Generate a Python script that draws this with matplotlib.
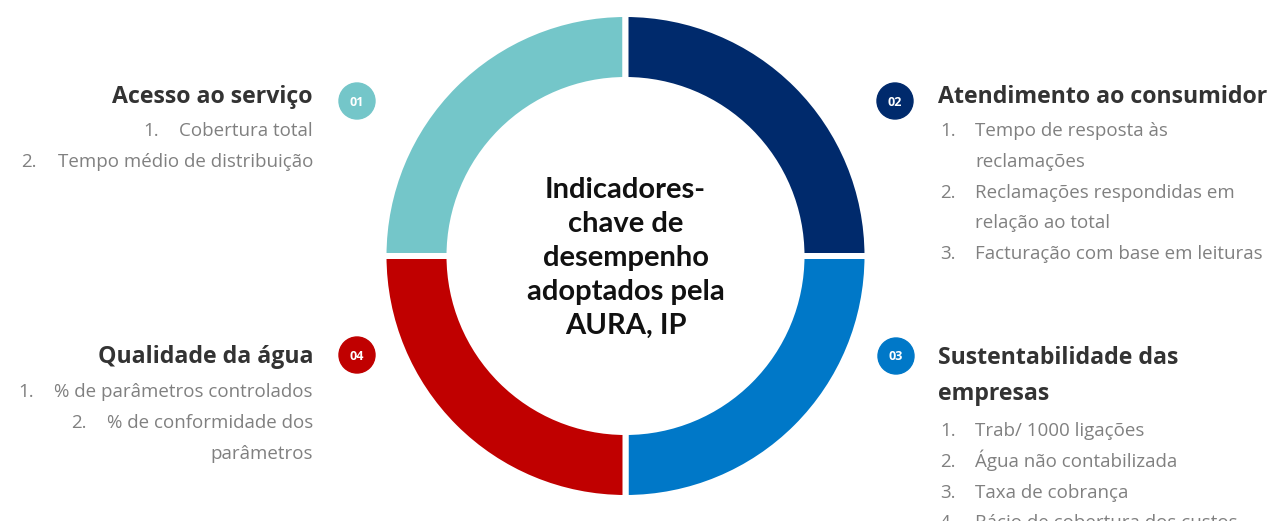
import matplotlib
matplotlib.use("Agg")
import matplotlib.pyplot as plt
from matplotlib.patches import Circle

# ---- data ----
numbers = ["01", "02", "03", "04"]
categories = ["Acesso ao serviço", "Atendimento ao consumidor",
              "Sustentabilidade das\nempresas", "Qualidade da água"]
shares = [1, 1, 1, 1]
colors = ["#74C6C9", "#002A6C", "#0078C8", "#C00000"]
items_01 = [["Cobertura total"], ["Tempo médio de distribuição"]]
items_02 = [["Tempo de resposta às", "reclamações"],
            ["Reclamações respondidas em", "relação ao total"],
            ["Facturação com base em leituras"]]
items_03 = [["Trab/ 1000 ligações"], ["Água não contabilizada"],
            ["Taxa de cobrança"], ["Rácio de cobertura dos custos"]]
items_04 = [["% de parâmetros controlados"],
            ["% de conformidade dos", "parâmetros"]]
center_text = "Indicadores-\nchave de\ndesempenho\nadoptados pela\nAURA, IP"

W, H = 1270, 521
fig = plt.figure(figsize=(W / 100, H / 100), dpi=100)
ax = fig.add_axes([0, 0, 1, 1])


def Y(y):
    return H - y


# ---- donut ----
cx, cy = 625.5, Y(256)
gap_px = 6
ax.pie(shares, colors=colors, startangle=180, counterclock=False,
       center=(cx, cy), radius=239 + gap_px / 2, frame=True,
       wedgeprops=dict(width=60 + gap_px, edgecolor="white",
                       linewidth=gap_px * 72 / 100))
ax.set_xlim(0, W)
ax.set_ylim(0, H)
ax.set_aspect("equal")
ax.axis("off")

ax.text(cx, Y(258), center_text, ha="center", va="center",
        fontsize=21, fontweight="bold", family="Lato", color="#111111",
        linespacing=1.38)

# ---- badges ----
badge_pos = [(357, 101), (895, 101), (896, 356), (357, 355)]
for num, (bx, by), col in zip(numbers, badge_pos, colors):
    ax.add_patch(Circle((bx, Y(by)), 18, color=col, zorder=3))
    ax.text(bx, Y(by + 4.5), num, ha="center", va="baseline", color="white",
            fontsize=9, fontweight="bold", family="Open Sans", zorder=4)

HEAD = dict(fontsize=16.7, fontweight="bold", family="Open Sans", color="#333333")
ITEM = dict(fontsize=13.5, family="Open Sans", color="#808080")
LINE = 30.8
BASE = 7  # baseline offset below the row centre, px

renderer = fig.canvas.get_renderer()


def right_list(items, x_right, y0, num_gap=36):
    y = y0
    for i, lines in enumerate(items):
        for j, ln in enumerate(lines):
            t = ax.text(x_right, Y(y + BASE), ln, ha="right", va="baseline",
                        **ITEM)
            if j == 0:
                bb = t.get_window_extent(renderer)
                x0 = ax.transData.inverted().transform((bb.x0, bb.y0))[0]
                ax.text(x0 - num_gap, Y(y + BASE), f"{i + 1}.", ha="left",
                        va="baseline", **ITEM)
            y += LINE


def left_list(items, x_num, x_text, y0):
    y = y0
    for i, lines in enumerate(items):
        for j, ln in enumerate(lines):
            if j == 0:
                ax.text(x_num, Y(y + BASE), f"{i + 1}.", ha="left",
                        va="baseline", **ITEM)
            ax.text(x_text, Y(y + BASE), ln, ha="left", va="baseline", **ITEM)
            y += LINE


# 01 Acesso
ax.text(313, Y(97), categories[0], ha="right", va="center", **HEAD)
right_list(items_01, 313, 129)

# 02 Atendimento
ax.text(938, Y(97), categories[1], ha="left", va="center", **HEAD)
left_list(items_02, 940, 975, 129)

# 03 Sustentabilidade
ax.text(938, Y(376), categories[2], ha="left", va="center",
        linespacing=1.62, **HEAD)
left_list(items_03, 940, 975, 429)

# 04 Qualidade
ax.text(313, Y(357), categories[3], ha="right", va="center", **HEAD)
right_list(items_04, 313, 390)

fig.savefig("out.png", dpi=100)
